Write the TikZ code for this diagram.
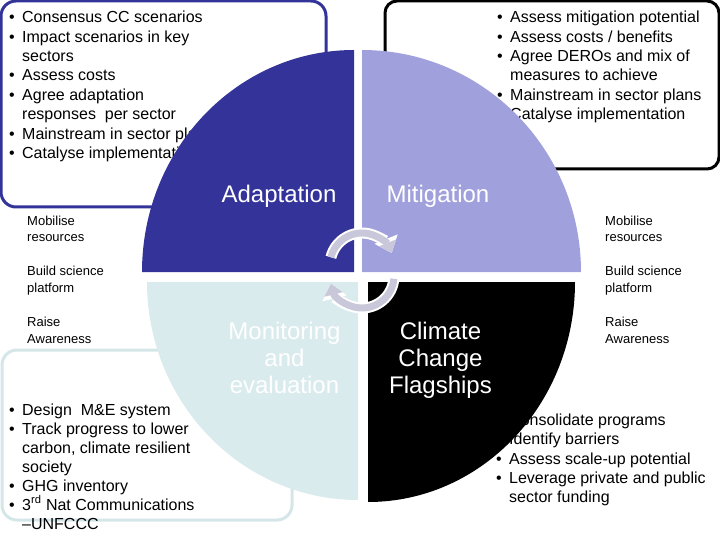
\documentclass[tikz,border=0pt]{standalone}
\usepackage{fontspec}
\setmainfont{Liberation Sans}
\usepackage{tikz}
\usetikzlibrary{arrows.meta}

\definecolor{adaptblue}{HTML}{333399}
\definecolor{mitiglav}{HTML}{A0A0DC}
\definecolor{monitorblue}{HTML}{DAEBEE}
\definecolor{cyclegrey}{HTML}{C8C8DA}
\definecolor{boxpale}{HTML}{D5E6E8}

\newcommand{\bul}{\makebox[13pt][l]{\textbullet}}
\newcommand{\ind}{\hspace*{13pt}}

\begin{document}
\begin{tikzpicture}[x=1pt,y=-1pt,
    listtext/.style={anchor=north west,inner sep=0pt,align=left,font=\fontsize{16}{19.4}\selectfont},
    sidetext/.style={anchor=north west,inner sep=0pt,align=left,font=\fontsize{13}{16.7}\selectfont},
    quadtext/.style={inner sep=0pt,align=center,font=\fontsize{24}{27}\selectfont},
    panel/.style={line width=3pt,rounded corners=15pt},
    cycleback/.style={line width=11pt,white,-{Triangle[length=15pt,width=24pt]}},
    cyclefront/.style={line width=7pt,cyclegrey,-{Triangle[length=11pt,width=18pt]}}]
\useasboundingbox (0,0) rectangle (720,540);

% outlined boxes
\draw[panel,draw=adaptblue] (1,1) rectangle (326,207);
\draw[panel,draw=black,rounded corners=12pt] (385,1) rectangle (719,169);
\draw[panel,draw=boxpale] (2,350) rectangle (292,520);

% bullet lists
\node[listtext] (adaptlist) at (9,11) {\bul Consensus CC scenarios\\ \bul Impact scenarios in key\\ \ind sectors\\ \bul Assess costs\\ \bul Agree adaptation\\ \ind responses~ per sector\\ \bul Mainstream in sector plans\\ \bul Catalyse implementation};
\node[listtext] (mitiglist) at (497,11) {\bul Assess mitigation potential\\ \bul Assess costs / benefits\\ \bul Agree DEROs and mix of\\ \ind measures to achieve\\ \bul Mainstream in sector plans\\ \bul Catalyse implementation};
\node[listtext,font=\fontsize{16}{19}\selectfont] (monitlist) at (9,403.3) {\bul Design~ M\&E system\\ \bul Track progress to lower\\ \ind carbon, climate resilient\\ \ind society\\ \bul GHG inventory\\ \bul 3\textsuperscript{rd} Nat Communications\\ \ind –UNFCCC};
\node[listtext] (flaglist) at (496,413.5) {\bul Consolidate programs\\ \bul Identify barriers\\ \bul Assess scale-up potential\\ \bul Leverage private and public\\ \ind sector funding};

% quadrants
\fill[adaptblue] (354,272) -- ++(-212,0) arc[start angle=180,end angle=90,x radius=212pt,y radius=222pt] -- cycle;
\fill[mitiglav] (362,272) -- ++(219,0) arc[start angle=0,end angle=90,x radius=219pt,y radius=222pt] -- cycle;
\fill[monitorblue] (358,282) -- ++(-211,0) arc[start angle=180,end angle=270,x radius=211pt,y radius=218pt] -- cycle;
\fill[black] (368,282) -- ++(207,0) arc[start angle=0,end angle=-90,x radius=207pt,y radius=220pt] -- cycle;

% quadrant labels
\node[quadtext,white,anchor=base] (adapt) at (279,202.7) {Adaptation};
\node[quadtext,white,anchor=base] (mitig) at (438,202.7) {Mitigation};
\node[quadtext,white,anchor=north] (monit) at (284.5,321.7) {Monitoring\\and\\evaluation};
\node[quadtext,white,anchor=north] (flag) at (440.5,321.5) {Climate\\Change\\Flagships};

% cycle arrows
\coordinate (cyctop) at (362,265);
\coordinate (cycbot) at (362,276);
\draw[cycleback] ([shift={(166:32pt)}]cyctop) arc[start angle=166,end angle=22,radius=32pt];
\draw[cyclefront] ([shift={(166:32pt)}]cyctop) arc[start angle=166,end angle=22,radius=32pt];
\draw[cycleback] ([shift={(-5:32pt)}]cycbot) arc[start angle=-5,end angle=-166,radius=32pt];
\draw[cyclefront] ([shift={(-5:32pt)}]cycbot) arc[start angle=-5,end angle=-166,radius=32pt];

% side notes
\node[sidetext] (mobleft) at (27,215.5) {Mobilise\\resources};
\node[sidetext] (scileft) at (27,265.8) {Build science\\platform};
\node[sidetext] (awareleft) at (27,316.7) {Raise\\Awareness};
\node[sidetext] (mobright) at (605,215.5) {Mobilise\\resources};
\node[sidetext] (sciright) at (605,265.8) {Build science\\platform};
\node[sidetext] (awareright) at (605,316.7) {Raise\\Awareness};
\end{tikzpicture}
\end{document}
